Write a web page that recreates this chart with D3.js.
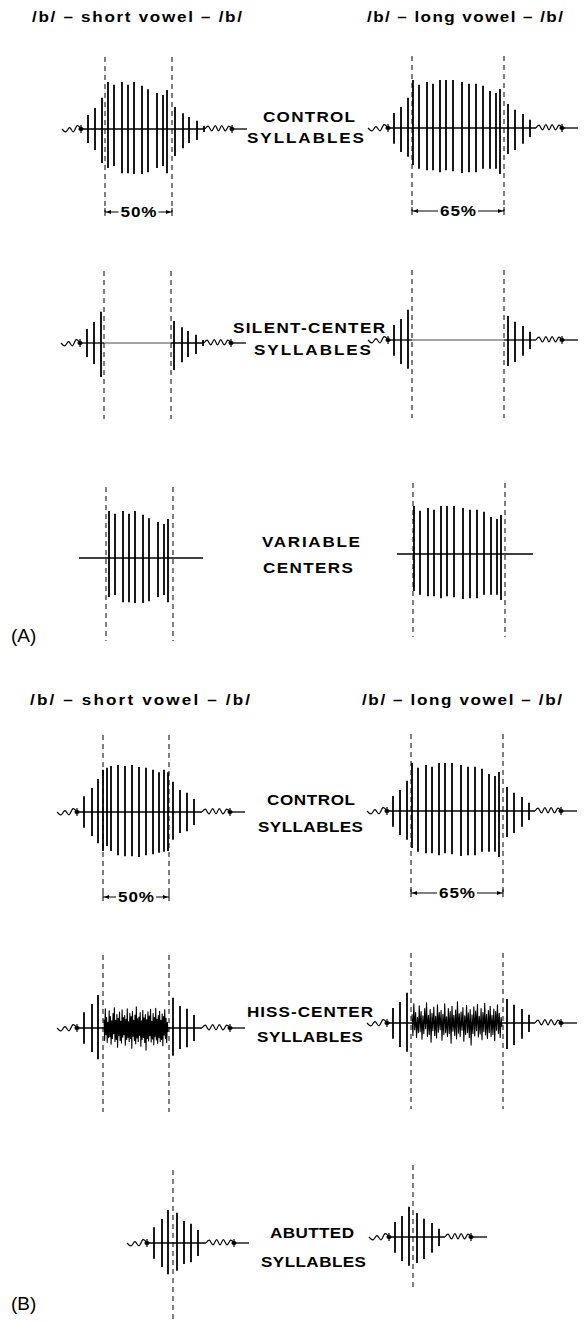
<!DOCTYPE html>
<html>
<head>
<meta charset="utf-8">
<script src="https://cdn.jsdelivr.net/npm/d3@7"></script>
<style>
  body { margin: 0; background: #fff; }
  svg { display: block; }
  text { font-family: "Liberation Sans", Arial, sans-serif; fill: #000; }
</style>
</head>
<body>
<script>
// ---------- data ----------
// glottal pulses of the control syllables: [time ms, positive peak %, negative peak %]
const shortPulsesA = [
  [26, 29, 29], [33, 44, 44], [40, 65, 71], [46, 98, 81], [52, 92, 77],
  [60, 98, 92], [66, 92, 92], [72, 98, 94], [80, 90, 94], [86, 83, 90],
  [95, 75, 81], [101, 71, 77], [105, 81, 92], [113, 46, 56], [121, 33, 40],
  [127, 25, 29], [135, 17, 23], [142, 6, 6]
];
const shortPulsesB = [
  [27, 33, 33], [35, 50, 50], [41, 69, 65], [46, 88, 81], [50, 92, 71],
  [54, 96, 81], [61, 98, 90], [68, 96, 92], [75, 98, 92], [82, 94, 94],
  [89, 92, 90], [96, 88, 88], [102, 83, 85], [107, 88, 83], [111, 83, 81],
  [116, 63, 58], [123, 46, 44], [130, 40, 40], [137, 27, 27]
];
const longPulses = [
  [26, 31, 33], [33, 44, 50], [40, 63, 60], [45, 100, 77], [51, 90, 85],
  [59, 96, 88], [65, 92, 88], [72, 100, 92], [78, 100, 88], [85, 100, 90],
  [94, 96, 94], [101, 92, 92], [108, 92, 92], [115, 88, 85], [122, 77, 85],
  [128, 73, 85], [132, 81, 96], [140, 50, 54], [147, 38, 46], [155, 29, 33],
  [162, 17, 19]
];
// event times (ms): initial burst, gate on, gate off, end of voicing, final burst, end of trace
const shortEventsA = [19, 43, 110, 143, 170, 185];
const shortEventsB = [20, 46, 112, 145, 173, 188];
const longEvents = [20, 44, 136, 168, 194, 210];

// noise that replaces the vowel centre (% of peak)
const hissSamples = [
  18, -26, 40, -14, 22, -30, 12, -20, 36, -18,
  24, -34, 15, -22, 30, -12, 42, -28, 16, -24,
  28, -40, 20, -16, 33, -26, 14, -31, 38, -19,
  22, -14, 26, -36, 18, -24, 40, -20, 13, -28,
  30, -22, 24, -42, 35, -17, 16, -26, 27, -33,
  44, -21, 19, -28, 23, -15, 32, -38, 15, -24,
  37, -20, 21, -30, 28, -46, 17, -22, 34, -27,
  25, -16, 39, -29, 14, -23, 30, -35, 22, -18,
  41, -25, 18, -32, 26, -20, 35, -28, 16, -24,
  29, -37, 24, -15, 38, -22, 20, -30, 12, -8
];
// wiggles of the release bursts: [fraction of interval, % of peak]
const leadWiggle = [[0, 0], [0.2, -6], [0.4, 3], [0.6, -6], [0.8, 7], [1, 0]];
const trailWiggle = [[0, 0], [0.12, 6], [0.25, -4], [0.38, 7], [0.5, -4], [0.62, 7], [0.75, -4], [0.88, 6], [1, 0]];

const headers = ['/b/ \u2013 short vowel \u2013 /b/', '/b/ \u2013 long vowel \u2013 /b/'];
const rowLabelsA = [['CONTROL', 'SYLLABLES'], ['SILENT-CENTER', 'SYLLABLES'], ['VARIABLE', 'CENTERS']];
const rowLabelsB = [['CONTROL', 'SYLLABLES'], ['HISS-CENTER', 'SYLLABLES'], ['ABUTTED', 'SYLLABLES']];
const durationLabels = ['50%', '65%'];

// ---------- layout ----------
const W = 586, H = 1323;
const STRETCH = 1.22; // the figure's lettering is wider than Liberation Sans
const svg = d3.select('body').append('svg').attr('width', W).attr('height', H);
const amp = d3.scaleLinear().domain([0, 100]).range([0, 48]);

const rows = [
  { mode: 'control', pulses: [shortPulsesA, longPulses], events: [shortEventsA, longEvents],
    x0: [62, 368], y0: [129, 128], dash: [[-72, 83], [-72, 83]], pct: true },
  { mode: 'silent', pulses: [shortPulsesA, longPulses], events: [shortEventsA, longEvents],
    x0: [61, 368], y0: [343, 340], dash: [[-72, 76], [-70, 78]] },
  { mode: 'variable', pulses: [shortPulsesA, longPulses], events: [shortEventsA, longEvents],
    x0: [63, 369], y0: [558, 554], dash: [[-71, 83], [-71, 83]], span: [[16, 140], [28, 164]] },
  { mode: 'control', pulses: [shortPulsesB, longPulses], events: [shortEventsB, longEvents],
    x0: [57, 367], y0: [812, 811], dash: [[-77, 85], [-77, 82]], pct: true },
  { mode: 'hiss', pulses: [shortPulsesB, longPulses], events: [shortEventsB, longEvents],
    x0: [57, 367], y0: [1028, 1023], dash: [[-73, 84], [-70, 86]] },
  { mode: 'abutted', pulses: [shortPulsesB, longPulses], events: [shortEventsB, longEvents],
    x0: [127, 369], y0: [1243, 1237], dash: [[-73, 77], [-72, 53]] }
];

// text placement: [x, baseline, width]
const headerPos = [[[32, 22, 210], [367, 22, 196]], [[30, 705, 220], [362, 705, 200]]];
const rowLabelPos = [
  [[263, 122, 92], [247, 143, 117]],
  [[233, 333, 152], [254, 355, 117]],
  [[262, 547, 98], [263, 573, 90]],
  [[267, 805, 88], [258, 832, 105]],
  [[247, 1017, 126], [257, 1042, 106]],
  [[270, 1238, 84], [261, 1267, 105]]
];
const panelTags = [['(A)', 11, 642], ['(B)', 11, 1310]];

function label(parent, text, pos, size, anchor) {
  const t = parent.append('text')
    .attr('transform', `translate(${pos[0]},${pos[1]}) scale(${STRETCH},1)`)
    .attr('textLength', pos[2] / STRETCH).attr('lengthAdjust', 'spacing')
    .style('font-size', size + 'px').style('font-weight', 'bold')
    .text(text);
  if (anchor) t.attr('text-anchor', anchor);
  return t;
}

function blob(g, cx, cy) {
  g.append('ellipse').attr('cx', cx).attr('cy', cy).attr('rx', 2.6).attr('ry', 2.1).attr('fill', '#000');
  g.append('line').attr('x1', cx).attr('x2', cx).attr('y1', cy - 4).attr('y2', cy + 4)
    .attr('stroke', '#000').attr('stroke-width', 1.2);
}

function wiggle(g, x, y0, shape, t0, t1) {
  const line = d3.line()
    .x(d => x(t0 + d[0] * (t1 - t0)))
    .y(d => y0 - amp(d[1]))
    .curve(d3.curveCardinal);
  g.append('path').attr('d', line(shape)).attr('fill', 'none')
    .attr('stroke', '#000').attr('stroke-width', 1.2);
}

function hline(g, x1, x2, y, w, c) {
  g.append('line').attr('x1', x1).attr('x2', x2).attr('y1', y).attr('y2', y)
    .attr('stroke', c || '#000').attr('stroke-width', w);
}

function drawSyllable(row, k, pctText) {
  const mode = row.mode;
  const y0 = row.y0[k];
  const dash = row.dash[k];
  const [burst, gateOn, gateOff, voiceEnd, finalBurst, end] = row.events[k];
  const gap = mode === 'abutted' ? gateOff - gateOn : 0;
  const x = d3.scaleLinear().domain([0, 100]).range([row.x0[k], row.x0[k] + 100]);
  const g = svg.append('g');
  const outer = p => p[0] < gateOn || p[0] > gateOff;

  let pulses = row.pulses[k];
  if (mode === 'variable') pulses = pulses.filter(p => !outer(p));
  else if (mode !== 'control') pulses = pulses.filter(outer).map(p => (p[0] > gateOff ? [p[0] - gap, p[1], p[2]] : p));

  // dashed gate markers
  const gates = mode === 'abutted' ? [gateOn] : [gateOn, gateOff];
  g.selectAll('line.gate').data(gates).join('line')
    .attr('class', 'gate')
    .attr('x1', d => x(d)).attr('x2', d => x(d))
    .attr('y1', y0 + dash[0]).attr('y2', y0 + dash[1])
    .attr('stroke', '#000').attr('stroke-width', 1).attr('stroke-dasharray', '5,4');

  // time axis / trace
  if (mode === 'variable') {
    hline(g, x(row.span[k][0]), x(row.span[k][1]), y0, 1.3);
  } else {
    const tail = t => t - gap;
    wiggle(g, x, y0, leadWiggle, 0, burst);
    if (mode === 'silent') {
      hline(g, x(burst), x(gateOn), y0, 1.3);
      hline(g, x(gateOn), x(gateOff), y0, 0.9, '#333');
      hline(g, x(gateOff), x(voiceEnd), y0, 1.3);
    } else {
      hline(g, x(burst), x(tail(voiceEnd)), y0, 1.3);
    }
    wiggle(g, x, y0, trailWiggle, tail(voiceEnd), tail(finalBurst));
    hline(g, x(tail(finalBurst)), x(tail(end)), y0, 1.3);
    blob(g, x(burst), y0);
    blob(g, x(tail(finalBurst)), y0);
  }

  // hiss replacing the centre
  if (mode === 'hiss') {
    const hx = d3.scaleLinear().domain([0, hissSamples.length - 1]).range([x(gateOn) + 1, x(gateOff) - 1]);
    const line = d3.line().x((d, i) => hx(i)).y(d => y0 - amp(d));
    g.append('path').attr('d', line(hissSamples)).attr('fill', 'none')
      .attr('stroke', '#000').attr('stroke-width', 1.1).attr('stroke-linejoin', 'round');
  }

  // pulses
  g.selectAll('line.pulse').data(pulses).join('line')
    .attr('class', 'pulse')
    .attr('x1', d => x(d[0])).attr('x2', d => x(d[0]))
    .attr('y1', d => y0 - amp(d[1])).attr('y2', d => y0 + amp(d[2]))
    .attr('stroke', '#000').attr('stroke-width', 1.8);

  // duration annotation
  if (pctText) {
    const ya = y0 + dash[1];
    const xa = x(gateOn), xb = x(gateOff), cx = (xa + xb) / 2;
    label(g, pctText, [cx, ya + 5, 36], 14, 'middle');
    const hw = 20;
    hline(g, xa, cx - hw, ya, 1);
    hline(g, cx + hw, xb, ya, 1);
    [xa, xb].forEach((xx, i) => {
      g.append('line').attr('x1', xx).attr('x2', xx).attr('y1', ya - 4).attr('y2', ya + 4)
        .attr('stroke', '#000').attr('stroke-width', 1);
      const s = i === 0 ? 1 : -1;
      g.append('path').attr('d', `M${xx + s},${ya} L${xx + s * 6},${ya - 2} L${xx + s * 6},${ya + 2} Z`)
        .attr('fill', '#000');
    });
  }
}

rows.forEach((row, r) => {
  [0, 1].forEach(k => drawSyllable(row, k, row.pct ? durationLabels[k] : null));
  const names = r < 3 ? rowLabelsA[r] : rowLabelsB[r - 3];
  names.forEach((n, i) => label(svg, n, rowLabelPos[r][i], 14));
});

headerPos.forEach(panel => panel.forEach((pos, k) => label(svg, headers[k], pos, 14)));
panelTags.forEach(([t, x, y]) => {
  svg.append('text').attr('x', x).attr('y', y).style('font-size', '19px').text(t);
});
</script>
</body>
</html>
